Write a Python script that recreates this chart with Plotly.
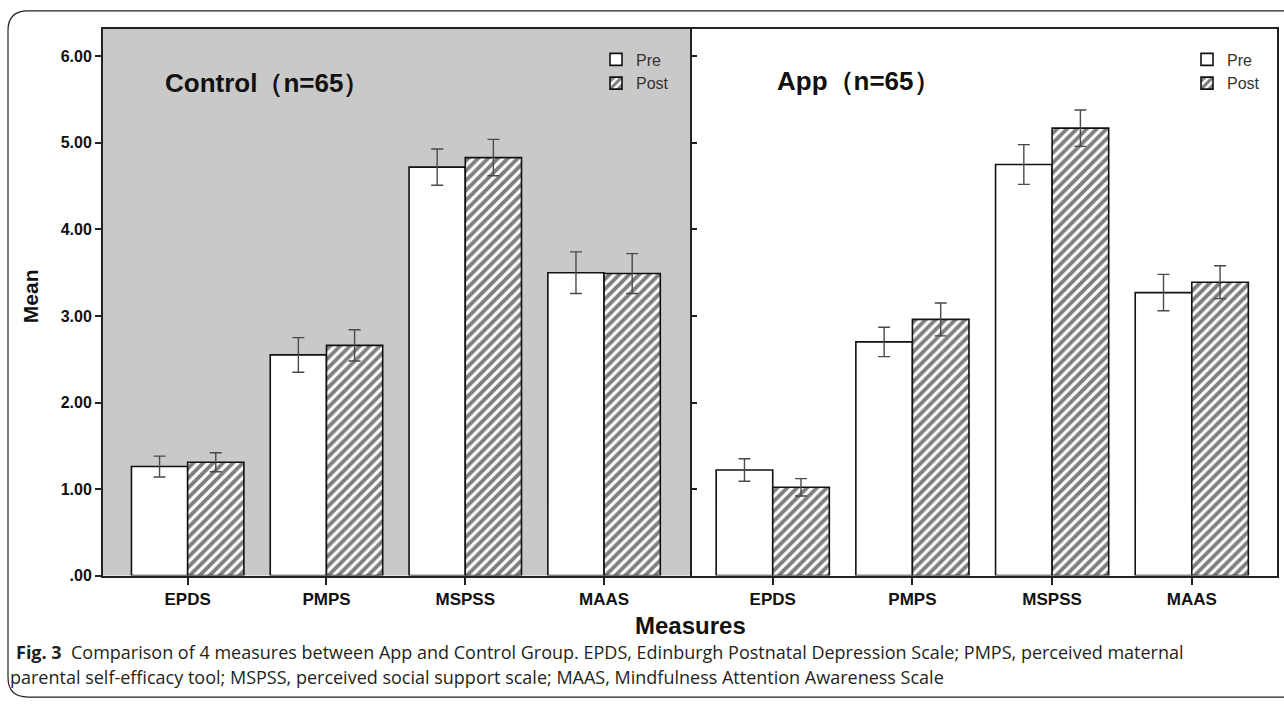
import plotly.graph_objects as go

# ---------------- data ----------------
measures = ["EPDS", "PMPS", "MSPSS", "MAAS"]
control_pre = [1.26, 2.55, 4.72, 3.50]
control_pre_err = [0.12, 0.20, 0.21, 0.24]
control_post = [1.31, 2.66, 4.83, 3.49]
control_post_err = [0.11, 0.18, 0.21, 0.23]
app_pre = [1.22, 2.70, 4.75, 3.27]
app_pre_err = [0.13, 0.17, 0.23, 0.21]
app_post = [1.02, 2.96, 5.17, 3.39]
app_post_err = [0.10, 0.19, 0.21, 0.19]
y_tickvals = [0, 1, 2, 3, 4, 5, 6]
y_ticktext = [".00", "1.00", "2.00", "3.00", "4.00", "5.00", "6.00"]

W, H = 1284, 708


def px(x):
    return x / W


def py(y):
    return 1 - y / H


FONT = "Arial, Liberation Sans, sans-serif"
ERR_COLOR = "#4a4a4a"


def bar(name, y, err, xa, ya, legend, hatch):
    pattern = dict(shape="/", fgcolor="#000000", bgcolor="white", size=7, solidity=0.55) if hatch else dict(shape="")
    return go.Bar(
        name=name, x=measures, y=y, xaxis=xa, yaxis=ya, legend=legend,
        marker=dict(color="white", line=dict(color="#111111", width=1.6), pattern=pattern),
        error_y=dict(type="data", array=err, visible=True, color=ERR_COLOR, thickness=1.4, width=6),
    )


fig = go.Figure()
fig.add_trace(bar("Pre", control_pre, control_pre_err, "x", "y", "legend", False))
fig.add_trace(bar("Post", control_post, control_post_err, "x", "y", "legend", True))
fig.add_trace(bar("Pre", app_pre, app_pre_err, "x2", "y2", "legend2", False))
fig.add_trace(bar("Post", app_post, app_post_err, "x2", "y2", "legend2", True))

ydom = [py(583), py(29)]
yrange = [0, 6.32]

axis_common = dict(showline=True, linecolor="#222222", linewidth=2, showgrid=False, zeroline=False)
xtickfont = dict(family=FONT, size=17, color="#111111", weight="bold")

fig.update_layout(
    width=W, height=H,
    margin=dict(l=0, r=0, t=0, b=0),
    paper_bgcolor="white", plot_bgcolor="white",
    barmode="group", bargap=0.19, bargroupgap=0,
    font=dict(family=FONT, color="#111111"),
    xaxis=dict(domain=[px(103), px(690)], range=[-0.610, 3.619], anchor="y", mirror=True,
               ticks="outside", ticklen=7, tickwidth=1.5, tickcolor="#222222",
               tickfont=xtickfont, **axis_common),
    yaxis=dict(domain=ydom, range=yrange, anchor="x", tickvals=y_tickvals, ticktext=y_ticktext,
               ticks="outside", ticklen=6, tickwidth=1.5, tickcolor="#222222",
               tickfont=dict(family=FONT, size=16, color="#111111", weight="bold"), **axis_common),
    xaxis2=dict(domain=[px(692), px(1277)], range=[-0.578, 3.61], anchor="y2", mirror=True,
                ticks="outside", ticklen=7, tickwidth=1.5, tickcolor="#222222",
                tickfont=xtickfont, **axis_common),
    yaxis2=dict(domain=ydom, range=yrange, anchor="x2", matches="y", tickvals=y_tickvals,
                ticks="inside", ticklen=5, tickwidth=1.5, tickcolor="#222222",
                showticklabels=False, mirror=True, **axis_common),
    legend=dict(x=px(596), y=py(43), xanchor="left", yanchor="top", bgcolor="rgba(0,0,0,0)",
                font=dict(family=FONT, size=16, color="#333333"), tracegroupgap=0),
    legend2=dict(x=px(1187), y=py(43), xanchor="left", yanchor="top", bgcolor="rgba(0,0,0,0)",
                 font=dict(family=FONT, size=16, color="#333333"), tracegroupgap=0),
    showlegend=True,
)

# gray background for the Control panel
fig.add_shape(type="rect", xref="x domain", yref="y domain", x0=0, x1=1, y0=0, y1=1,
              fillcolor="#c9c9c9", line=dict(width=0), layer="below")

# outer rounded frame
r = 20
path = (f"M {px(1290)},{py(11)} L {px(8 + r)},{py(11)} Q {px(8)},{py(11)} {px(8)},{py(11 + r)} "
        f"L {px(8)},{py(706 - r)} Q {px(8)},{py(706)} {px(8 + r)},{py(706)} L {px(1290)},{py(706)}")
fig.add_shape(type="path", xref="paper", yref="paper", path=path,
              line=dict(color="#222222", width=1.2))

annotations = [
    dict(text="<b>Control（n=65）</b>", x=px(163), y=py(84), xanchor="left", yanchor="middle",
         font=dict(family=FONT, size=26, color="#111111")),
    dict(text="<b>App（n=65）</b>", x=px(775), y=py(82), xanchor="left", yanchor="middle",
         font=dict(family=FONT, size=26, color="#111111")),
    dict(text="<b>Mean</b>", x=px(30), y=py(300), textangle=-90, xanchor="center", yanchor="middle",
         font=dict(family=FONT, size=21, color="#111111")),
    dict(text="<b>Measures</b>", x=px(690), y=py(634), xanchor="center", yanchor="middle",
         font=dict(family=FONT, size=24, color="#111111")),
    dict(text="<b>Fig. 3</b>  Comparison of 4 measures between App and Control Group. EPDS, Edinburgh Postnatal "
              "Depression Scale; PMPS, perceived maternal",
         x=px(14), y=py(660), xanchor="left", yanchor="middle",
         font=dict(family="Open Sans, sans-serif", size=18, color="#231f20")),
    dict(text="parental self-efficacy tool; MSPSS, perceived social support scale; MAAS, Mindfulness "
              "Attention Awareness Scale",
         x=px(8), y=py(686), xanchor="left", yanchor="middle",
         font=dict(family="Open Sans, sans-serif", size=18, color="#231f20")),
]
for a in annotations:
    fig.add_annotation(xref="paper", yref="paper", showarrow=False, **a)

post = ("document.body.style.margin='0';"
        "document.documentElement.style.overflow='hidden';"
        "document.body.style.overflow='hidden';"
        "var d=document.querySelector('.plotly-graph-div');"
        "d.style.position='fixed';d.style.left='0px';d.style.top='0px';")
fig.write_html("out.html", config={"displayModeBar": False}, post_script=post)
